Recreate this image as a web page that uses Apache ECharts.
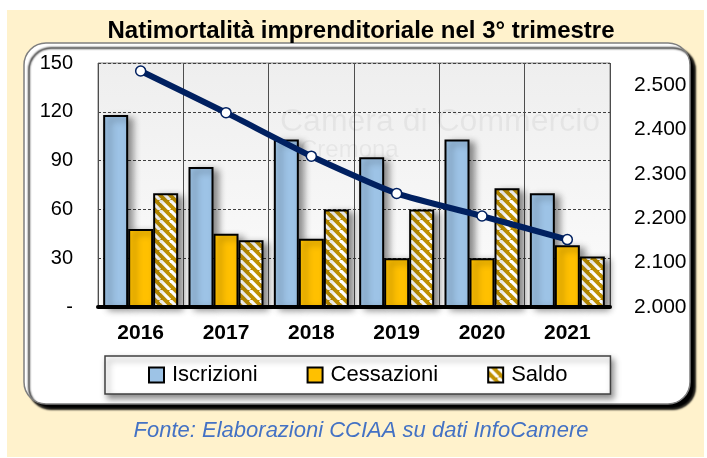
<!DOCTYPE html>
<html>
<head>
<meta charset="utf-8">
<script src="https://cdn.jsdelivr.net/npm/echarts@6/dist/echarts.min.js"></script>
<style>
    html, body { margin: 0; padding: 0; background: #fff; }
    #chart { width: 707px; height: 458px; }
</style>
</head>
<body>
<div id="chart"></div>
<script>
var anni = ['2016', '2017', '2018', '2019', '2020', '2021'];
var iscrizioni = [118, 86, 103, 92, 103, 70];
var cessazioni = [48, 45, 42, 30, 30, 38];
var saldo = [70, 41, 60, 60, 73, 31];
var imprese = [2532, 2438, 2340, 2256, 2205, 2152];   // asse destro

var FONT = "'Liberation Sans', Arial, sans-serif";

// tratteggio diagonale per il saldo
function hatch() {
    var s = 10;
    var c = document.createElement('canvas');
    c.width = s; c.height = s;
    var ctx = c.getContext('2d');
    ctx.fillStyle = '#BF9000';
    ctx.fillRect(0, 0, s, s);
    ctx.strokeStyle = '#ffffff';
    ctx.lineWidth = 3.2;
    for (var k = -1; k <= 1; k++) {
        ctx.beginPath();
        ctx.moveTo(k * s, 0);
        ctx.lineTo(k * s + s, s);
        ctx.stroke();
    }
    return c;
}

function migliaia(v) {
    var t = Math.floor(v / 1000);
    var r = String(v % 1000);
    while (r.length < 3) r = '0' + r;
    return t + '.' + r;
}

var barShadow = {
    borderColor: '#000',
    borderWidth: 2,
    shadowBlur: 7,
    shadowOffsetX: 5,
    shadowOffsetY: 3,
    shadowColor: 'rgba(0,0,0,0.45)'
};

var option = {
    backgroundColor: '#ffffff',
    animation: false,
    title: {
        text: 'Natimortalità imprenditoriale nel 3° trimestre',
        left: 356,
        top: 14,
        textAlign: 'center',
        textStyle: {
            fontFamily: FONT,
            fontSize: 24,
            fontWeight: 'bold',
            color: '#000'
        }
    },
    graphic: [
        {   // fondo crema
            type: 'rect', z: -20, silent: true,
            shape: {x: 7, y: 10, width: 697, height: 447},
            style: {fill: '#FFF2CC'}
        },
        {   // pannello bianco
            type: 'rect', z: -10, silent: true,
            shape: {x: 24, y: 43, width: 666, height: 361, r: 22},
            style: {
                fill: '#ffffff', stroke: '#7f7f7f', lineWidth: 1.5,
                shadowColor: '#000', shadowBlur: 2, shadowOffsetX: 5, shadowOffsetY: 5
            }
        },
        {   // filigrana
            type: 'text', z: 1, silent: true,
            style: {
                text: 'Camera di Commercio', x: 280, y: 106,
                font: '32px ' + FONT, fill: 'rgba(0,0,0,0.05)'
            }
        },
        {
            type: 'text', z: 1, silent: true,
            style: {
                text: 'Cremona', x: 300, y: 138,
                font: '24px ' + FONT, fill: 'rgba(0,0,0,0.05)'
            }
        },
        {   // fonte
            type: 'text', silent: true,
            style: {
                text: 'Fonte: Elaborazioni CCIAA su dati InfoCamere',
                x: 361, y: 431, align: 'center', verticalAlign: 'middle',
                font: 'italic 22px ' + FONT, fill: '#4472C4'
            }
        }
    ],
    legend: {
        left: 105,
        top: 356,
        padding: [8, 43, 8, 43],
        itemGap: 49,
        itemWidth: 15,
        itemHeight: 15,
        icon: 'rect',
        backgroundColor: '#ffffff',
        borderColor: '#404040',
        borderWidth: 1.5,
        shadowColor: 'rgba(0,0,0,0.45)',
        shadowBlur: 6,
        shadowOffsetX: 3,
        shadowOffsetY: 4,
        data: ['Iscrizioni', 'Cessazioni', 'Saldo'],
        itemStyle: {borderColor: '#000', borderWidth: 2},
        textStyle: {fontFamily: FONT, fontSize: 22, color: '#000', padding: [0, 0, 0, 3]}
    },
    grid: {
        left: 98,
        right: 97,
        top: 63,
        bottom: 151,
        show: true,
        borderColor: '#7f7f7f',
        borderWidth: 1,
        backgroundColor: {
            type: 'linear', x: 0, y: 0, x2: 0, y2: 1,
            colorStops: [{offset: 0, color: '#eeeeee'}, {offset: 1, color: '#fcfcfc'}]
        }
    },
    xAxis: {
        type: 'category',
        data: anni,
        axisTick: {show: false},
        axisLine: {lineStyle: {color: '#000', width: 4}},
        axisLabel: {
            margin: 16,
            fontFamily: FONT,
            fontSize: 21,
            fontWeight: 'bold',
            color: '#000'
        },
        splitLine: {show: true, interval: 0, lineStyle: {color: '#4d4d4d', width: 1}}
    },
    yAxis: [
        {
            type: 'value',
            min: 0,
            max: 150,
            interval: 30,
            axisLine: {show: false},
            axisTick: {show: false},
            axisLabel: {
                margin: 25,
                fontFamily: FONT,
                fontSize: 20,
                color: '#000',
                formatter: function (v) { return v === 0 ? '-' : v; }
            },
            splitLine: {lineStyle: {color: '#404040', type: [3, 2], width: 1}}
        },
        {
            type: 'value',
            min: 2000,
            max: 2550,
            interval: 100,
            axisLine: {show: false},
            axisTick: {show: false},
            splitLine: {show: false},
            axisLabel: {
                margin: 24,
                showMaxLabel: false,
                fontFamily: FONT,
                fontSize: 21,
                color: '#000',
                formatter: migliaia
            }
        }
    ],
    series: [
        {
            name: 'Iscrizioni', type: 'bar', barWidth: 25, barGap: '0%',
            data: iscrizioni,
            itemStyle: Object.assign({color: '#9DC3E6'}, barShadow)
        },
        {
            name: 'Cessazioni', type: 'bar', barWidth: 25, barGap: '0%',
            data: cessazioni,
            itemStyle: Object.assign({color: '#FFC000'}, barShadow)
        },
        {
            name: 'Saldo', type: 'bar', barWidth: 25, barGap: '0%',
            data: saldo,
            itemStyle: Object.assign({color: {image: hatch(), repeat: 'repeat'}}, barShadow)
        },
        {
            name: 'Imprese', type: 'line', yAxisIndex: 1,
            data: imprese,
            smooth: 0.2,
            symbol: 'circle',
            symbolSize: 10,
            z: 5,
            lineStyle: {color: '#002060', width: 6},
            itemStyle: {color: '#ffffff', borderColor: '#002060', borderWidth: 1.5}
        }
    ]
};

var chart = echarts.init(document.getElementById('chart'));
chart.setOption(option);
</script>
</body>
</html>
